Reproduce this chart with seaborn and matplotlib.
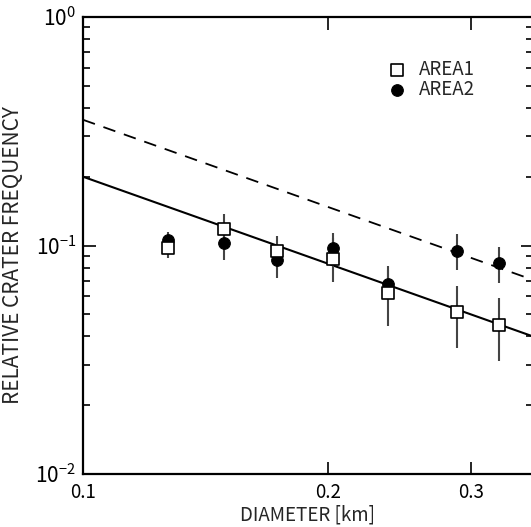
import math
import matplotlib
matplotlib.use("Agg")
import matplotlib.pyplot as plt
import matplotlib.ticker as mticker
import seaborn as sns
import pandas as pd

# ================= DATA =================
diameter = [0.127, 0.149, 0.173, 0.203, 0.237, 0.288, 0.324]

area1_freq = [0.0975, 0.118, 0.0946, 0.0873, 0.062, 0.0512, 0.0449]
area1_low = [0.088, 0.100, 0.082, 0.069, 0.0445, 0.0356, 0.0312]
area1_high = [0.107, 0.137, 0.110, 0.108, 0.081, 0.0665, 0.059]

area2_freq = [0.1057, 0.1026, 0.0864, 0.0975, 0.068, 0.0946, 0.0838]
area2_low = [0.096, 0.0864, 0.072, 0.082, 0.058, 0.078, 0.0686]
area2_high = [0.1146, 0.120, 0.100, 0.113, 0.078, 0.112, 0.0986]

# end points of the two power-law lines
fit_x = [0.1, 0.357]
fit_solid = [0.2, 0.04]
fit_dashed = [0.355, 0.0707]

x_ticks = [0.1, 0.2, 0.3]
x_tick_labels = ["0.1", "0.2", "0.3"]
y_ticks = [1e-2, 1e-1, 1e0]
# =========================================

sns.set_theme(style="ticks")
plt.rcParams["font.family"] = ["Noto Sans CJK JP", "DejaVu Sans"]
plt.rcParams["mathtext.fontset"] = "custom"
plt.rcParams["mathtext.rm"] = "Noto Sans CJK JP"

df1 = pd.DataFrame({"D": diameter, "F": area1_freq, "lo": area1_low, "hi": area1_high})
df2 = pd.DataFrame({"D": diameter, "F": area2_freq, "lo": area2_low, "hi": area2_high})
fits = pd.DataFrame({"D": fit_x, "solid": fit_solid, "dashed": fit_dashed})

fig = plt.figure(figsize=(5.31, 5.27), dpi=100)
ax = fig.add_axes([83 / 531, 1 - 474 / 527, 450 / 531, 457 / 527])

# fit lines
sns.lineplot(data=fits, x="D", y="solid", ax=ax, color="black", lw=1.5, zorder=1)
sns.lineplot(data=fits, x="D", y="dashed", ax=ax, color="black", lw=1.3,
             linestyle=(0, (7, 5)), zorder=1)

# error bars
ax.vlines(df2["D"], df2["lo"], df2["hi"], color="#444444", lw=1.5, zorder=2)
ax.vlines(df1["D"], df1["lo"], df1["hi"], color="#444444", lw=1.5, zorder=2)

# points (squares on top of circles)
sns.scatterplot(data=df2, x="D", y="F", ax=ax, marker="o", s=70, color="black",
                edgecolor="black", linewidth=0.8, label="AREA2", zorder=3)
sns.scatterplot(data=df1, x="D", y="F", ax=ax, marker="s", s=80, color="white",
                edgecolor="black", linewidth=1.2, label="AREA1", zorder=4)

ax.set_xscale("log")
ax.set_yscale("log")
ax.set_xlim(0.1, 0.357)
ax.set_ylim(1e-2, 1e0)

ax.xaxis.set_major_locator(mticker.FixedLocator(x_ticks))
ax.xaxis.set_major_formatter(mticker.FixedFormatter(x_tick_labels))
ax.xaxis.set_minor_locator(mticker.NullLocator())
ax.yaxis.set_major_locator(mticker.FixedLocator(y_ticks))
ax.yaxis.set_major_formatter(mticker.FuncFormatter(
    lambda v, p: r"$\mathregular{10^{%d}}$" % round(math.log10(v))))
ax.yaxis.set_minor_locator(mticker.LogLocator(base=10, subs=range(2, 10)))
ax.yaxis.set_minor_formatter(mticker.NullFormatter())

ax.tick_params(which="both", direction="in", top=True, right=True,
               colors="black", width=1.2)
ax.tick_params(axis="x", labelsize=13.5, pad=6)
ax.tick_params(axis="y", labelsize=15, pad=5)
ax.tick_params(which="major", length=9)
ax.tick_params(which="minor", length=5)
for s in ax.spines.values():
    s.set_linewidth(1.6)
    s.set_color("black")

ax.set_xlabel("DIAMETER [km]", fontsize=13.5, labelpad=1)
ax.set_ylabel("RELATIVE CRATER FREQUENCY", fontsize=15)
ax.yaxis.set_label_coords(-0.13, 0.48)

handles, labels = ax.get_legend_handles_labels()
ax.legend(handles[::-1], labels[::-1], loc="upper left", bbox_to_anchor=(0.64, 0.925),
          frameon=False, fontsize=13.5, handletextpad=0.15, labelspacing=-0.05,
          borderaxespad=0)

fig.savefig("out.png", dpi=100)
